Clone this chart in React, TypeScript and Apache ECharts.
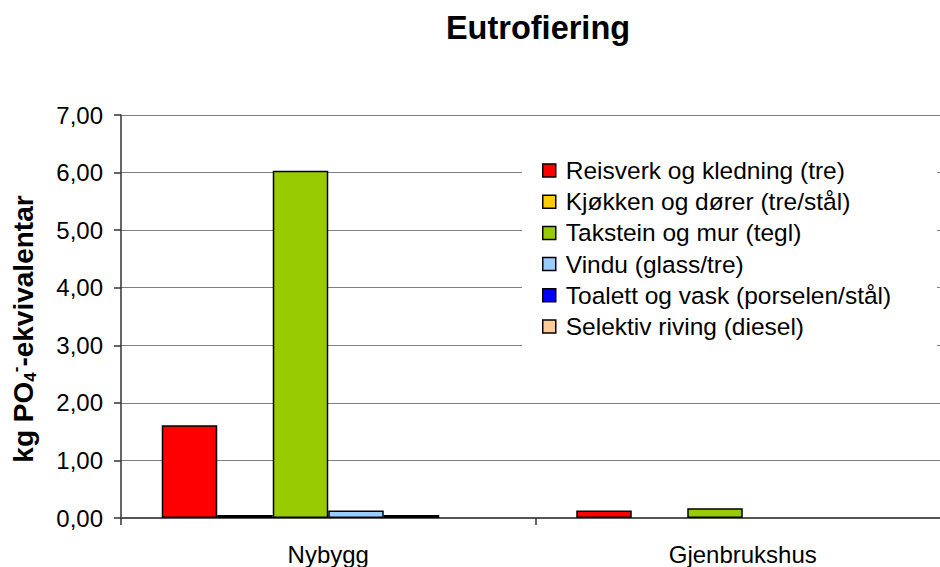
import React, { useEffect, useRef } from "react";
import * as echarts from "echarts";

const categories = ["Nybygg", "Gjenbrukshus"];
const seriesNames = [
  "Reisverk og kledning (tre)",
  "Kjøkken og dører (tre/stål)",
  "Takstein og mur (tegl)",
  "Vindu (glass/tre)",
  "Toalett og vask (porselen/stål)",
  "Selektiv riving (diesel)",
];
const seriesColors = ["#FF0000", "#FFCC00", "#99CC00", "#99CCFF", "#0000FF", "#FFCC99"];
const reisverk = [1.61, 0.13];
const kjokken = [0.05, 0];
const takstein = [6.03, 0.17];
const vindu = [0.13, 0];
const toalett = [0.05, 0];
const riving = [0, 0];
const seriesValues = [reisverk, kjokken, takstein, vindu, toalett, riving];

const titleText = "Eutrofiering";
const FONT = "'Liberation Sans', Arial, sans-serif";

export default function App() {
  const ref = useRef<HTMLDivElement>(null);
  useEffect(() => {
    if (!ref.current) return;
    const chart = echarts.init(ref.current, null, { renderer: "svg" });
    chart.setOption({
      animation: false,
      backgroundColor: "#fff",
      grid: { left: 121, right: 0, top: 115, bottom: 49, containLabel: false },
      graphic: [
        {
          type: "rect",
          z: 1,
          shape: { x: 522, y: 145, width: 415, height: 210 },
          style: { fill: "#fff" },
        },
        {
          type: "text",
          x: 538,
          y: 28,
          style: {
            text: titleText,
            align: "center",
            verticalAlign: "middle",
            font: `bold 32.5px ${FONT}`,
            fill: "#000",
          },
        },
        {
          type: "text",
          x: 23,
          y: 329,
          rotation: Math.PI / 2,
          style: {
            text: "{a|kg PO}{b|4}{c|-}{a|-ekvivalentar}",
            align: "center",
            verticalAlign: "middle",
            fill: "#000",
            rich: {
              a: { fontSize: 28, fontWeight: "bold", fontFamily: FONT, lineHeight: 32, verticalAlign: "middle", fill: "#000" },
              b: { fontSize: 17, fontWeight: "bold", fontFamily: FONT, lineHeight: 32, verticalAlign: "bottom", fill: "#000" },
              c: { fontSize: 17, fontWeight: "bold", fontFamily: FONT, lineHeight: 32, verticalAlign: "top", fill: "#000" },
            },
          },
        },
      ],
      legend: {
        orient: "vertical",
        left: 542,
        top: 158,
        padding: 0,
        itemWidth: 13,
        itemHeight: 13,
        itemGap: 6.2,
        icon: "rect",
        itemStyle: { borderColor: "#000", borderWidth: 1.5 },
        textStyle: { fontSize: 24.5, fontFamily: FONT, color: "#000", lineHeight: 24, padding: [0, 0, 0, 5] },
        data: seriesNames,
      },
      xAxis: {
        type: "category",
        data: categories,
        axisLine: { lineStyle: { color: "#555", width: 2 } },
        axisTick: { show: true, length: 7, lineStyle: { color: "#333", width: 1.5 } },
        axisLabel: { margin: 24, fontSize: 24, fontFamily: FONT, color: "#000" },
      },
      yAxis: {
        type: "value",
        min: 0,
        max: 7,
        interval: 1,
        axisLine: { show: true, lineStyle: { color: "#333", width: 1.5 } },
        axisTick: { show: true, length: 7, lineStyle: { color: "#333", width: 1.5 } },
        axisLabel: {
          margin: 18,
          fontSize: 24,
          fontFamily: FONT,
          color: "#000",
          formatter: (v: number) => v.toFixed(2).replace(".", ","),
        },
        splitLine: { show: true, lineStyle: { color: "#808080", width: 1 } },
      },
      series: seriesNames.map((name, i) => ({
        name,
        type: "bar",
        data: seriesValues[i].map((v) =>
          v === 0 ? { value: v, itemStyle: { borderWidth: 0, opacity: 0 } } : v
        ),
        barWidth: 55.5,
        barGap: "0%",
        itemStyle: { color: seriesColors[i], borderColor: "#000", borderWidth: 1.5 },
      })),
    });
    return () => chart.dispose();
  }, []);
  return (
    <div style={{ position: "fixed", left: 0, top: 0, width: 940, height: 567, overflow: "hidden", background: "#fff" }}>
      <div ref={ref} style={{ position: "absolute", left: 0, top: 0, width: 950, height: 567 }} />
    </div>
  );
}
